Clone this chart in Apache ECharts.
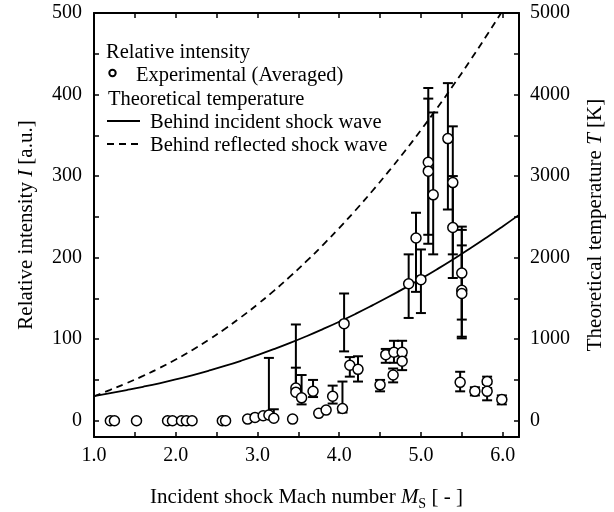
<!DOCTYPE html>
<html><head><meta charset="utf-8">
<script src="https://cdn.jsdelivr.net/npm/echarts@6/dist/echarts.min.js"></script>
<style>html,body{margin:0;padding:0;background:#fff}#c{width:614px;height:512px}</style>
</head><body><div id="c"></div>
<script>
// Experimental (averaged) relative intensity with error bars
const machNumbers = [1.20,1.25,1.52,1.90,1.96,2.07,2.13,2.20,2.57,2.61,2.88,2.97,3.07,3.14,3.20,3.43,3.47,3.47,3.54,3.68,3.75,3.84,3.92,4.04,4.06,4.13,4.23,4.50,4.57,4.66,4.67,4.77,4.77,4.85,4.94,5.00,5.09,5.09,5.15,5.33,5.39,5.39,5.48,5.50,5.50,5.50,5.66,5.81,5.81,5.99];
const intensity   = [0,0,0,0,0,0,0,0,0,0,2,4,6,7,3,2,40,35,28,36,9,13,30,15,119,68,63,44,81,56,84,84,73,168,224,173,317,306,277,346,292,237,47,181,160,156,36,48,36,26];
const errLow      = [0,0,0,0,0,0,0,0,0,0,2,4,6,7,3,2,40,35,20,29,9,13,21,10,85,54,48,36,71,47,71,75,62,126,158,132,228,217,204,259,204,175,36,124,103,101,31,40,25,20];
const errHigh     = [0,0,0,0,0,0,0,0,0,0,2,4,6,77,14,2,118,65,56,50,9,13,43,48,156,78,79,50,88,64,98,98,80,204,255,210,408,395,378,414,361,300,60,238,234,215,41,54,45,31];

// Theoretical temperature curves [K]
const curveMach     = [1.0,1.2,1.4,1.6,1.8,2.0,2.2,2.4,2.6,2.8,3.0,3.2,3.4,3.6,3.8,4.0,4.2,4.4,4.6,4.8,5.0,5.2,5.4,5.6,5.8,6.0,6.2];
const tempIncident  = [300,338,376,416,459,506,557,612,671,735,804,877,954,1036,1123,1214,1310,1411,1516,1626,1740,1859,1983,2111,2244,2382,2524];
const tempReflected = [300,379,461,549,645,750,865,990,1125,1270,1426,1592,1769,1956,2154,2363,2581,2811,3051,3302,3564,3836,4119,4413,4717,5031,5357];

// Ticks and labels
const xTicks = [1.0,1.5,2.0,2.5,3.0,3.5,4.0,4.5,5.0,5.5,6.0];
const xLabels = [1.0,2.0,3.0,4.0,5.0,6.0];
const yLeftTicks = [0,50,100,150,200,250,300,350,400,450,500];
const yLeftLabels = [0,100,200,300,400,500];
const yRightTicks = [0,500,1000,1500,2000,2500,3000,3500,4000,4500,5000];
const yRightLabels = [0,1000,2000,3000,4000,5000];

const FONT = "'Liberation Serif', 'Times New Roman', serif";
const BLACK = '#000';

const chart = echarts.init(document.getElementById('c'), null, {renderer: 'canvas'});

const scatterData = machNumbers.map((m, i) => [m, intensity[i]]);
const errData = machNumbers.map((m, i) => [m, errLow[i], errHigh[i], intensity[i]])
  .filter(d => d[1] < d[3] || d[2] > d[3]);

const curveIncident = curveMach.map((m, i) => [m, tempIncident[i]]);
const curveReflected = curveMach.map((m, i) => [m, tempReflected[i]]);

const tickStyle = {show: true, inside: true, length: 5, lineStyle: {color: BLACK, width: 1.5}};
const lineStyleAxis = {show: true, onZero: false, lineStyle: {color: BLACK, width: 2}};
const labelStyle = {color: BLACK, fontFamily: FONT, fontSize: 20};

const richBase = {
  n: {fontFamily: FONT, fontSize: 21, color: BLACK, lineHeight: 28},
  i: {fontFamily: FONT, fontSize: 21, color: BLACK, fontStyle: 'italic', lineHeight: 28},
  s: {fontFamily: FONT, fontSize: 14, color: BLACK, verticalAlign: 'bottom', lineHeight: 16}
};

const option = {
  animation: false,
  backgroundColor: '#fff',
  grid: {left: 94, top: 13, width: 425, height: 424, containLabel: false, outerBoundsMode: 'none'},
  xAxis: [
    {
      type: 'value', position: 'bottom', min: 1.0, max: 6.2,
      axisLine: lineStyleAxis,
      axisTick: Object.assign({}, tickStyle, {customValues: xTicks}),
      axisLabel: Object.assign({}, labelStyle, {customValues: xLabels, margin: 9, formatter: v => v.toFixed(1)}),
      splitLine: {show: false},
      name: '{n|Incident shock Mach number }{i|M}{s|S}{n| [ - ]}',
      nameLocation: 'middle', nameGap: 46,
      nameTextStyle: {rich: richBase}
    },
    {
      type: 'value', position: 'top', min: 1.0, max: 6.2,
      axisLine: lineStyleAxis,
      axisTick: Object.assign({}, tickStyle, {customValues: xTicks}),
      axisLabel: {show: false},
      splitLine: {show: false}
    }
  ],
  yAxis: [
    {
      type: 'value', position: 'left', min: -20, max: 500,
      axisLine: lineStyleAxis,
      axisTick: Object.assign({}, tickStyle, {customValues: yLeftTicks}),
      axisLabel: Object.assign({}, labelStyle, {customValues: yLeftLabels, margin: 12, formatter: v => String(v)}),
      splitLine: {show: false},
      name: '{n|Relative intensity }{i|I}{n| [a.u.]}',
      nameLocation: 'middle', nameGap: 54,
      nameTextStyle: {rich: richBase}
    },
    {
      type: 'value', position: 'right', min: -200, max: 5000,
      axisLine: lineStyleAxis,
      axisTick: Object.assign({}, tickStyle, {customValues: yRightTicks}),
      axisLabel: Object.assign({}, labelStyle, {customValues: yRightLabels, margin: 11, formatter: v => String(v)}),
      splitLine: {show: false},
      name: '{n|Theoretical temperature }{i|T}{n| [K]}',
      nameLocation: 'middle', nameGap: 62,
      nameTextStyle: {rich: richBase}
    }
  ],
  series: [
    {
      name: 'Behind incident shock wave', type: 'line', yAxisIndex: 1,
      data: curveIncident, smooth: true, symbol: 'none', clip: true, z: 1,
      lineStyle: {color: BLACK, width: 1.8}
    },
    {
      name: 'Behind reflected shock wave', type: 'line', yAxisIndex: 1,
      data: curveReflected, smooth: true, symbol: 'none', clip: true, z: 1,
      lineStyle: {color: BLACK, width: 1.8, type: [7, 5]}
    },
    {
      name: 'error', type: 'custom', z: 2, clip: true,
      data: errData,
      renderItem: function (params, api) {
        const x = api.value(0), lo = api.value(1), hi = api.value(2), v = api.value(3);
        const pLo = api.coord([x, lo]);
        const pHi = api.coord([x, hi]);
        const cap = 5;
        const st = {stroke: BLACK, lineWidth: 2, fill: null};
        const children = [{type: 'line', shape: {x1: pLo[0], y1: pLo[1], x2: pHi[0], y2: pHi[1]}, style: st}];
        if (hi > v) children.push({type: 'line', shape: {x1: pHi[0] - cap, y1: pHi[1], x2: pHi[0] + cap, y2: pHi[1]}, style: st});
        if (lo < v) children.push({type: 'line', shape: {x1: pLo[0] - cap, y1: pLo[1], x2: pLo[0] + cap, y2: pLo[1]}, style: st});
        return {type: 'group', children: children};
      }
    },
    {
      name: 'Experimental (Averaged)', type: 'scatter', z: 3,
      data: scatterData, symbol: 'circle', symbolSize: 10,
      itemStyle: {color: '#fff', borderColor: BLACK, borderWidth: 1.5, opacity: 1}
    }
  ],
  graphic: [
    {type: 'text', x: 106, y: 52.5, z: 10, style: {text: 'Relative intensity', fontFamily: FONT, fontSize: 20.5, fill: BLACK, verticalAlign: 'middle'}},
    {type: 'circle', z: 10, shape: {cx: 112.5, cy: 73, r: 3.2}, style: {fill: '#fff', stroke: BLACK, lineWidth: 2}},
    {type: 'text', x: 136, y: 76, z: 10, style: {text: 'Experimental (Averaged)', fontFamily: FONT, fontSize: 20.5, fill: BLACK, verticalAlign: 'middle'}},
    {type: 'text', x: 108, y: 99.3, z: 10, style: {text: 'Theoretical temperature', fontFamily: FONT, fontSize: 20.5, fill: BLACK, verticalAlign: 'middle'}},
    {type: 'line', z: 10, shape: {x1: 107, y1: 121, x2: 140, y2: 121}, style: {stroke: BLACK, lineWidth: 1.8}},
    {type: 'text', x: 150, y: 122.3, z: 10, style: {text: 'Behind incident shock wave', fontFamily: FONT, fontSize: 20.5, fill: BLACK, verticalAlign: 'middle'}},
    {type: 'line', z: 10, shape: {x1: 107, y1: 144, x2: 141, y2: 144}, style: {stroke: BLACK, lineWidth: 1.8, lineDash: [7, 5]}},
    {type: 'text', x: 150, y: 145.3, z: 10, style: {text: 'Behind reflected shock wave', fontFamily: FONT, fontSize: 20.5, fill: BLACK, verticalAlign: 'middle'}}
  ]
};
chart.setOption(option);
</script>
</body></html>
